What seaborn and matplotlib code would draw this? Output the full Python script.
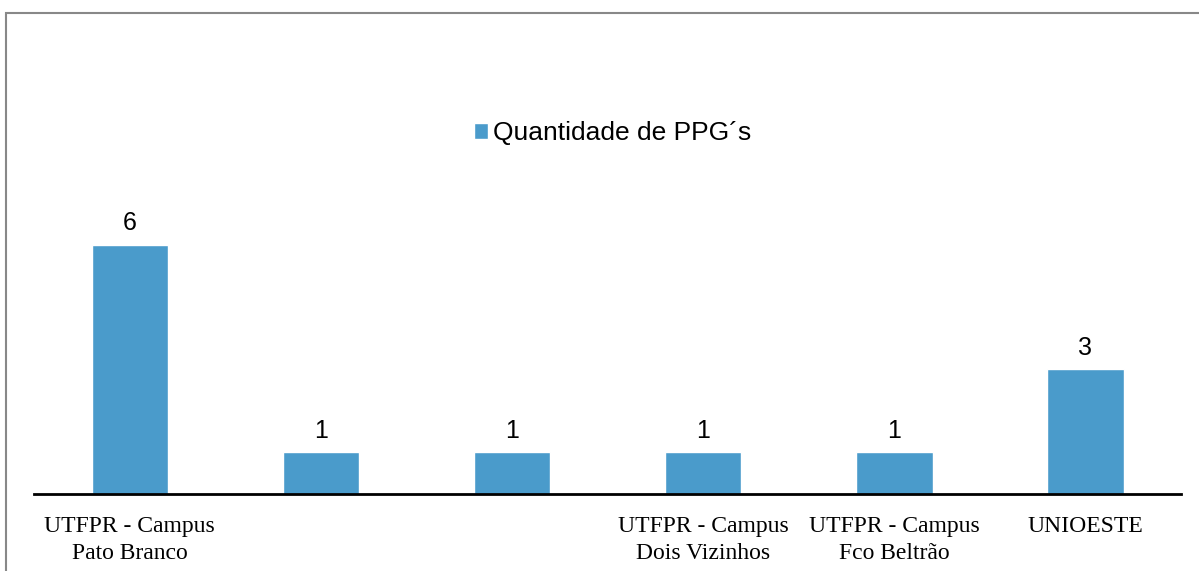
import pandas as pd
import matplotlib
matplotlib.use("Agg")
import matplotlib.pyplot as plt
from matplotlib.patches import Rectangle
import seaborn as sns

# Données
rotulos = ["UTFPR - Campus\nPato Branco", "", "",
           "UTFPR - Campus\nDois Vizinhos", "UTFPR - Campus\nFco Beltrão", "UNIOESTE"]
quantidades = [6, 1, 1, 1, 1, 3]
serie = "Quantidade de PPG´s"

sns.set_style("white")
plt.rcParams["text.color"] = "black"
plt.rcParams["xtick.color"] = "black"
cor = "#4A9BCB"

df = pd.DataFrame({"pos": list(range(len(quantidades))), "qtd": quantidades})

fig = plt.figure(figsize=(11.99, 5.71), dpi=100)
ax = fig.add_axes([0.0285, 0.1349, 0.9565, 0.7268])

sns.barplot(data=df, x="pos", y="qtd", color=cor, saturation=1, width=0.4,
            ax=ax, label=serie)

ax.set_ylim(0, 10)
ax.set_xlim(-0.5, len(quantidades) - 0.5)
ax.set_xticks(range(len(rotulos)))
ax.set_xticklabels(rotulos, family="Liberation Serif", fontsize=17, linespacing=1.35,
                   color="black")
ax.tick_params(axis="x", length=0, pad=16)
ax.set_yticks([])
ax.set_xlabel("")
ax.set_ylabel("")
for lado in ["top", "right", "left"]:
    ax.spines[lado].set_visible(False)
ax.spines["bottom"].set_color("black")
ax.spines["bottom"].set_linewidth(2)

for barra, v in zip(ax.patches, quantidades):
    ax.annotate(str(v), (barra.get_x() + barra.get_width() / 2, barra.get_height()),
                xytext=(0, 7), textcoords="offset points", ha="center", va="bottom",
                family="Liberation Sans", fontsize=18, color="black")

ax.legend(loc="center", bbox_to_anchor=(0.511, 0.767), bbox_transform=fig.transFigure,
          frameon=False, prop={"family": "Liberation Sans", "size": 19},
          handlelength=0.55, handleheight=0.55, handletextpad=0.2, labelcolor="black")

# moldura cinza
fig.patches.append(Rectangle((0.005, -0.1), 1.2, 1.077, transform=fig.transFigure,
                             fill=False, edgecolor="#888888", linewidth=1.5))

plt.savefig("out.png", dpi=100)
